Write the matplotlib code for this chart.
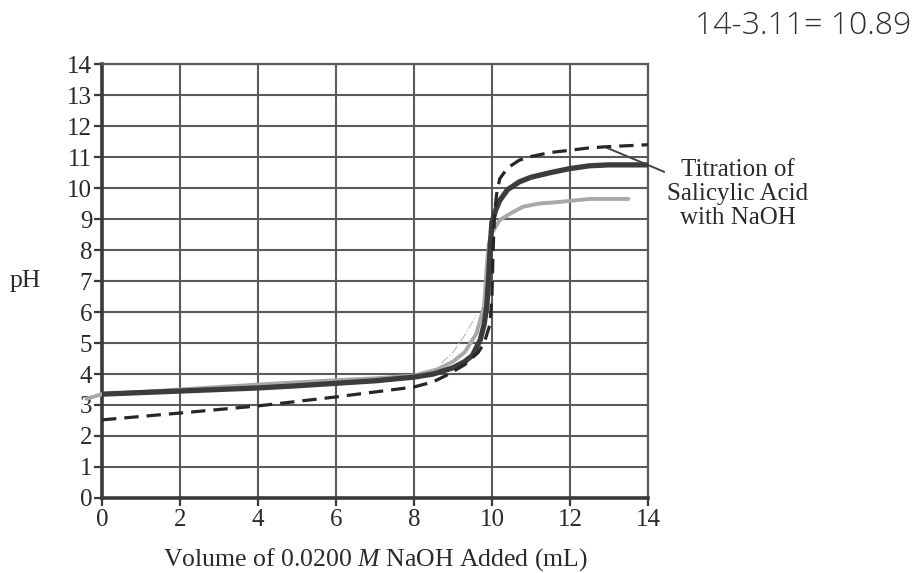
import matplotlib
matplotlib.use("Agg")
import matplotlib.pyplot as plt

# ---- data ----
solid_x = [0, 1, 2, 3, 4, 5, 6, 7, 8, 8.5, 9, 9.3, 9.5, 9.7, 9.8, 9.87, 9.92, 9.96, 10.0,
           10.1, 10.2, 10.4, 10.7, 11.0, 11.5, 12.0, 12.5, 13.0, 13.5, 14.0]
solid_y = [3.35, 3.4, 3.45, 3.5, 3.55, 3.62, 3.7, 3.78, 3.9, 4.0, 4.2, 4.4, 4.6, 5.1, 5.6, 6.2,
           7.2, 8.2, 8.9, 9.3, 9.6, 9.95, 10.2, 10.35, 10.5, 10.63, 10.72, 10.75, 10.75, 10.75]

dash_x = [0, 2, 4, 6, 8, 8.5, 8.9, 9.3, 9.65, 9.8, 9.95, 10.0, 10.03, 10.07, 10.12, 10.2,
          10.4, 10.7, 11.0, 11.5, 12.0, 12.5, 13.0, 13.5, 14.0]
dash_y = [2.52, 2.74, 2.97, 3.26, 3.58, 3.75, 4.0, 4.3, 4.7, 5.0, 5.6, 6.5, 8.0, 9.2, 9.8, 10.3,
          10.65, 10.9, 11.02, 11.15, 11.22, 11.3, 11.34, 11.37, 11.4]

gray_x = [-0.4, 0, 1, 2, 3, 4, 5, 6, 7, 8, 8.6, 9.0, 9.3, 9.6, 9.8, 9.87, 9.92, 10.0,
          10.2, 10.5, 10.8, 11.2, 11.7, 12.5, 13.0, 13.5]
gray_y = [3.2, 3.35, 3.42, 3.5, 3.58, 3.66, 3.73, 3.8, 3.86, 3.95, 4.15, 4.4, 4.7, 5.3, 6.2,
          7.5, 8.2, 8.55, 8.97, 9.2, 9.4, 9.5, 9.55, 9.65, 9.65, 9.65]

faint_x = [8.7, 9.0, 9.3, 9.6]
faint_y = [4.35, 4.7, 5.25, 5.9]

x_ticks = [0, 2, 4, 6, 8, 10, 12, 14]
y_ticks = list(range(0, 15))

annot_text = "Titration of\nSalicylic Acid\nwith NaOH"
annot_point = (12.95, 11.3)
note_text = "14-3.11= 10.89"

# ---- figure ----
plt.rcParams['font.family'] = ['Liberation Serif', 'DejaVu Serif']
plt.rcParams['mathtext.fontset'] = 'custom'
plt.rcParams['mathtext.it'] = 'Liberation Serif:italic'
plt.rcParams['mathtext.rm'] = 'Liberation Serif'
fig = plt.figure(figsize=(9.19, 5.73), dpi=100)
ax = fig.add_axes([0.111, 0.131, 0.594, 0.757])

grid_c = '#5a5a5a'
txt_c = '#2a2a2a'
ax.set_xlim(0, 14)
ax.set_ylim(0, 14)
ax.set_xticks(x_ticks)
ax.set_yticks(y_ticks)
ax.grid(True, color=grid_c, linewidth=1.5)
ax.set_axisbelow(True)

for side in ['top', 'right']:
    ax.spines[side].set_color(grid_c)
    ax.spines[side].set_linewidth(1.6)
for side in ['left', 'bottom']:
    ax.spines[side].set_color('#3a3a3a')
    ax.spines[side].set_linewidth(2.6)

ax.tick_params(axis='both', direction='out', length=6, width=1.6, color='#3a3a3a',
               labelsize=18, labelcolor=txt_c, pad=1)
ax.tick_params(axis='x', pad=2)

ax.plot(faint_x, faint_y, color='#c4c4c4', linewidth=1.0, linestyle='-.', zorder=2)
ax.plot(gray_x, gray_y, color='#a8a8a8', linewidth=2.8, solid_capstyle='round',
        clip_on=False, zorder=3)
ax.plot(solid_x, solid_y, color='#3c3c3c', linewidth=3.8, solid_capstyle='round', zorder=4)
ax.plot(dash_x, dash_y, color='#262626', linewidth=2.3, dashes=(4.5, 2.5), zorder=5)

ax.set_xlabel("Volume of 0.0200 $\\mathit{M}$ NaOH Added (mL)", fontsize=18.5, color=txt_c,
              labelpad=11)
fig.text(0.028, 0.51, "pH", fontsize=18.5, color=txt_c, ha='center', va='center')

ax.annotate(annot_text, xy=annot_point, xytext=(16.3, 9.8), textcoords='data',
            fontsize=18, color=txt_c, ha='center', va='center', linespacing=1.12,
            annotation_clip=False,
            arrowprops=dict(arrowstyle='-', color='#444444', linewidth=1.4,
                            shrinkA=0, shrinkB=0, relpos=(0.04, 0.77)))

fig.text(0.874, 0.955, note_text, fontsize=23, color='#2f2f2f', ha='center', va='center',
         family=['Open Sans', 'DejaVu Sans'], fontweight='light')

fig.savefig("out.png", dpi=100)
